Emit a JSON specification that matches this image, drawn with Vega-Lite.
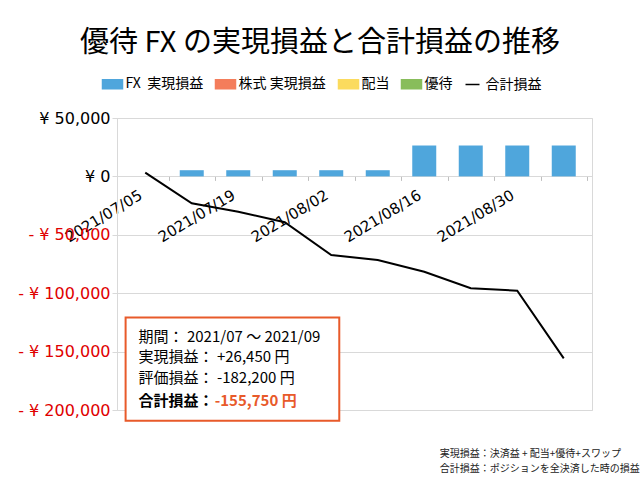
{
  "$schema": "https://vega.github.io/schema/vega-lite/v6.json",
  "width": 475,
  "height": 292,
  "autosize": {"type": "none"},
  "padding": {"left": 117, "top": 118, "right": 48, "bottom": 70},
  "background": "white",
  "config": {"view": {"stroke": "#D9D9D9"}, "font": "Noto Sans CJK JP"},
  "title": {"text": "優待 FX の実現損益と合計損益の推移", "font": "Noto Sans CJK JP", "fontSize": 29, "fontWeight": "normal", "color": "#000000", "anchor": "middle", "frame": "group", "dx": -34.5, "offset": 15},
  "data": {"values": [
    {"date": "2021/07/05", "fx": 0, "total": 3200},
    {"date": "2021/07/12", "fx": 5300, "total": -23000},
    {"date": "2021/07/19", "fx": 5300, "total": -30200},
    {"date": "2021/07/26", "fx": 5300, "total": -39300},
    {"date": "2021/08/02", "fx": 5300, "total": -67300},
    {"date": "2021/08/09", "fx": 5300, "total": -71600},
    {"date": "2021/08/16", "fx": 26450, "total": -81600},
    {"date": "2021/08/23", "fx": 26450, "total": -95800},
    {"date": "2021/08/30", "fx": 26450, "total": -97900},
    {"date": "2021/09/06", "fx": 26450, "total": -155750}
  ]},
  "layer": [
    {
      "mark": {"type": "bar", "width": 24},
      "encoding": {
        "x": {"field": "date", "type": "temporal",
          "scale": {"domain": [{"year": 2021, "month": 7, "date": 1, "hours": 12}, {"year": 2021, "month": 9, "date": 9, "hours": 12}]},
          "axis": {"orient": "bottom", "values": [{"year": 2021, "month": 7, "date": 5}, {"year": 2021, "month": 7, "date": 19}, {"year": 2021, "month": 8, "date": 2}, {"year": 2021, "month": 8, "date": 16}, {"year": 2021, "month": 8, "date": 30}],
            "format": "%Y/%m/%d", "labelAngle": -31, "labelAlign": "right", "labelBaseline": "middle",
            "labelFont": "DejaVu Sans", "labelFontSize": 15, "labelColor": "#000000", "labelPadding": 17, "labelOffset": -5,
            "ticks": false, "grid": false, "domain": false, "title": null, "labelOverlap": false, "labelFlush": false,
            "offset": {"expr": "scale('y', 0) - height"}}},
        "y": {"field": "fx", "type": "quantitative",
          "scale": {"domain": [-200000, 50000], "nice": false, "zero": false},
          "axis": {"values": [-200000, -150000, -100000, -50000, 0, 50000],
            "labelExpr": "datum.value < 0 ? '- ¥ ' + format(-datum.value, ',') : '¥ ' + format(datum.value, ',')",
            "labelColor": {"condition": {"test": "datum.value < 0", "value": "#E00000"}, "value": "#000000"},
            "labelFont": "DejaVu Sans", "labelFontSize": 16, "grid": true, "gridColor": "#D9D9D9",
            "domainColor": "#D9D9D9", "tickColor": "#D9D9D9", "tickSize": 5, "labelPadding": 2, "title": null}},
        "color": {"datum": "FX\u00a0\u00a0実現損益", "type": "nominal",
          "scale": {"domain": ["FX\u00a0\u00a0実現損益", "株式 実現損益", "配当", "優待", "合計損益"], "range": ["#4FA6DC", "#F47D5B", "#FBDB5E", "#88BD5B", "#000000"]},
          "legend": {"orient": "none", "legendX": -15.5, "legendY": -45, "direction": "horizontal", "title": null,
            "labelFont": "Noto Sans CJK JP", "labelFontSize": 14, "labelColor": "#000000", "labelOffset": 2,
            "columnPadding": 9, "padding": 0, "symbolSize": 400,
            "encode": {"symbols": {"update": {
              "shape": {"signal": "datum.value === '合計損益' ? 'M-0.7,0H0.7' : 'M-1,-0.45H1V0.45H-1Z'"},
              "fill": {"signal": "datum.value === '合計損益' ? 'transparent' : scale('color', datum.value)"},
              "stroke": {"signal": "datum.value === '合計損益' ? '#000000' : 'transparent'"},
              "strokeWidth": {"value": 1.5},
              "size": {"value": 400},
              "opacity": {"value": 1}}}}}}
      }
    },
    {
      "mark": {"type": "line", "strokeWidth": 2},
      "encoding": {
        "x": {"field": "date", "type": "temporal",
          "axis": {"orient": "bottom", "values": [{"year": 2021, "month": 7, "date": 8, "hours": 12}, {"year": 2021, "month": 7, "date": 15, "hours": 12}, {"year": 2021, "month": 7, "date": 22, "hours": 12}, {"year": 2021, "month": 7, "date": 29, "hours": 12}, {"year": 2021, "month": 8, "date": 5, "hours": 12}, {"year": 2021, "month": 8, "date": 12, "hours": 12}, {"year": 2021, "month": 8, "date": 19, "hours": 12}, {"year": 2021, "month": 8, "date": 26, "hours": 12}, {"year": 2021, "month": 9, "date": 2, "hours": 12}, {"year": 2021, "month": 9, "date": 9, "hours": 12}],
            "labels": false, "ticks": true, "tickSize": 4, "tickColor": "#BFBFBF", "domain": false, "grid": false, "title": null,
            "offset": {"expr": "scale('y', 0) - height"}}},
        "y": {"field": "total", "type": "quantitative"},
        "color": {"datum": "合計損益", "type": "nominal"}
      }
    },
    {
      "data": {"values": [{}]},
      "mark": {"type": "rect", "fill": "#FFFFFF", "stroke": "#E85A2A", "strokeWidth": 2},
      "encoding": {
        "x": {"datum": {"year": 2021, "month": 7, "date": 2, "hours": 1}, "type": "temporal", "axis": null},
        "x2": {"datum": {"year": 2021, "month": 8, "date": 3, "hours": 5}},
        "y": {"datum": -120700, "type": "quantitative"},
        "y2": {"datum": -209200}
      }
    },
    {
      "data": {"values": [{}]},
      "mark": {"type": "text", "text": "期間： 2021/07 ～ 2021/09", "align": "left", "baseline": "middle", "fontSize": 15, "font": "Noto Sans CJK JP", "color": "#000000"},
      "encoding": {
        "x": {"datum": {"year": 2021, "month": 7, "date": 4}, "type": "temporal", "axis": null},
        "y": {"datum": -137250, "type": "quantitative"}
      }
    },
    {
      "data": {"values": [{}]},
      "mark": {"type": "text", "text": "実現損益： +26,450 円", "align": "left", "baseline": "middle", "fontSize": 15, "font": "Noto Sans CJK JP", "color": "#000000"},
      "encoding": {
        "x": {"datum": {"year": 2021, "month": 7, "date": 4}, "type": "temporal", "axis": null},
        "y": {"datum": -154890, "type": "quantitative"}
      }
    },
    {
      "data": {"values": [{}]},
      "mark": {"type": "text", "text": "評価損益： -182,200 円", "align": "left", "baseline": "middle", "fontSize": 15, "font": "Noto Sans CJK JP", "color": "#000000"},
      "encoding": {
        "x": {"datum": {"year": 2021, "month": 7, "date": 4}, "type": "temporal", "axis": null},
        "y": {"datum": -172870, "type": "quantitative"}
      }
    },
    {
      "data": {"values": [{}]},
      "mark": {"type": "text", "text": "合計損益：", "align": "left", "baseline": "middle", "fontSize": 15, "font": "Noto Sans CJK JP", "fontWeight": "bold", "color": "#000000"},
      "encoding": {
        "x": {"datum": {"year": 2021, "month": 7, "date": 4}, "type": "temporal", "axis": null},
        "y": {"datum": -192050, "type": "quantitative"}
      }
    },
    {
      "data": {"values": [{}]},
      "mark": {"type": "text", "text": "-155,750 円", "align": "left", "baseline": "middle", "fontSize": 15, "font": "Noto Sans CJK JP", "fontWeight": "bold", "color": "#E85A2A"},
      "encoding": {
        "x": {"datum": {"year": 2021, "month": 7, "date": 15, "hours": 11}, "type": "temporal", "axis": null},
        "y": {"datum": -192050, "type": "quantitative"}
      }
    },
    {
      "data": {"values": [{}]},
      "mark": {"type": "text", "text": "実現損益：決済益 + 配当+優待+スワップ", "align": "left", "baseline": "middle", "fontSize": 10, "font": "Noto Sans CJK JP", "color": "#222222"},
      "encoding": {
        "x": {"datum": {"year": 2021, "month": 8, "date": 18, "hours": 8}, "type": "temporal", "axis": null},
        "y": {"datum": -237680, "type": "quantitative"}
      }
    },
    {
      "data": {"values": [{}]},
      "mark": {"type": "text", "text": "合計損益：ポジションを全決済した時の損益", "align": "left", "baseline": "middle", "fontSize": 10, "font": "Noto Sans CJK JP", "color": "#222222"},
      "encoding": {
        "x": {"datum": {"year": 2021, "month": 8, "date": 18, "hours": 8}, "type": "temporal", "axis": null},
        "y": {"datum": -250520, "type": "quantitative"}
      }
    }
  ],
  "resolve": {"axis": {"x": "independent"}}
}
